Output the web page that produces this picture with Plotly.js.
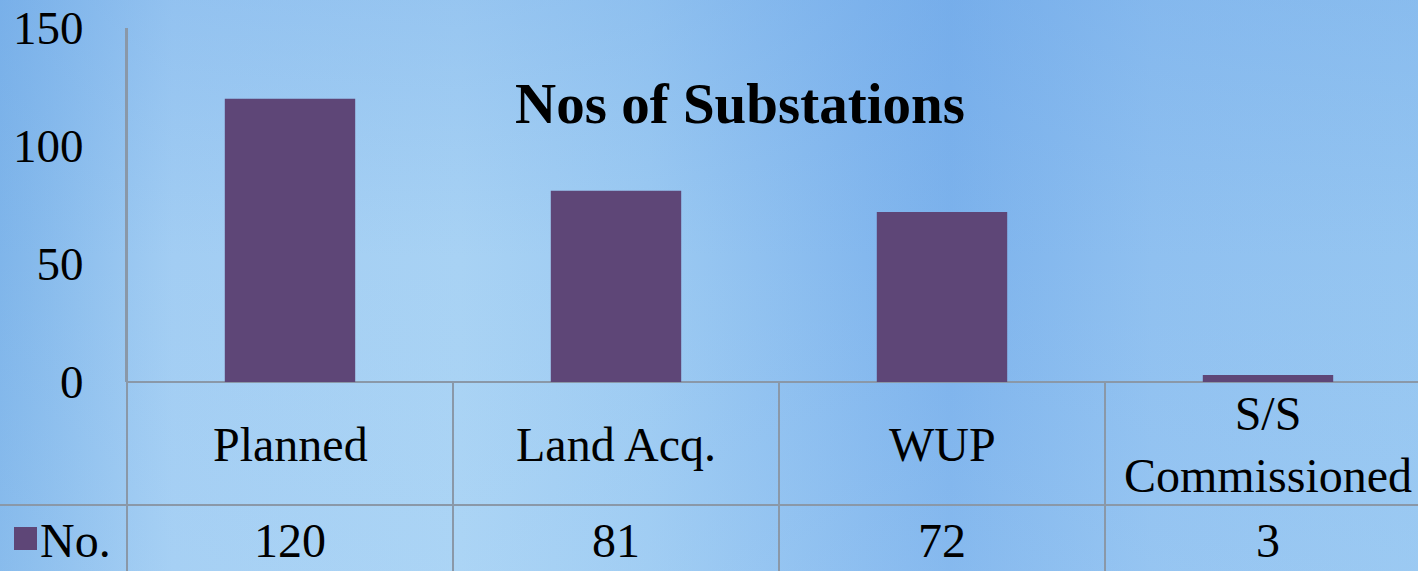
<!DOCTYPE html>
<html>
<head>
<meta charset="utf-8">
<script src="https://cdn.plot.ly/plotly-3.0.1.min.js"></script>
<style>
  html, body { margin: 0; padding: 0; overflow: hidden; }
  #chart {
    width: 1440px; height: 571px;
    background:
      linear-gradient(to bottom, rgba(100,160,230,0.25) 0%, rgba(100,160,230,0) 45%, rgba(190,225,250,0.15) 100%),
      linear-gradient(to right, #7fb5ea 0%, #a2cdf3 12%, #a8d2f4 32%, #9ccaf2 45%, #84b8ee 60%, #7cb2ec 66%, #8fc0f0 80%, #96c6f1 100%);
  }
</style>
</head>
<body>
<div id="chart"></div>
<script>
const categories = ['Planned', 'Land Acq.', 'WUP', 'S/S<br>Commissioned'];
const counts = [120, 81, 72, 3];
const seriesName = 'No.';
const yTicks = [0, 50, 100, 150];

const barColor = '#5e4677';
const lineColor = '#8a98a8';
const font = 'Liberation Serif';

// pixel helpers for the table under the plot
const plotTop = 28, plotBottom = 382, H = 571;
const py = px => (plotBottom - px) / (plotBottom - plotTop);

const data = [{
    type: 'bar',
    x: categories.map((c, i) => i),
    y: counts,
    name: seriesName,
    marker: { color: barColor },
    width: 0.4,
    hoverinfo: 'y'
}];

const shapes = [];
const annotations = [];

// table grid
shapes.push({ type: 'line', xref: 'paper', yref: 'paper', x0: 0, x1: 1, y0: py(505), y1: py(505), line: { color: lineColor, width: 2 } });
shapes.push({ type: 'line', xref: 'paper', yref: 'paper', x0: -127 / 1304, x1: 0, y0: py(505), y1: py(505), line: { color: lineColor, width: 2 } });
shapes.push({ type: 'line', xref: 'paper', yref: 'paper', x0: 0, x1: 0, y0: py(571), y1: 1, line: { color: lineColor, width: 2 } });
[0.5, 1.5, 2.5, 3.5].forEach(x => {
    shapes.push({ type: 'line', xref: 'x', yref: 'paper', x0: x, x1: x, y0: py(571), y1: 0, line: { color: lineColor, width: 2 } });
});

// category labels and values
categories.forEach((c, i) => {
    annotations.push({ x: i, y: py(444), xref: 'x', yref: 'paper', text: c, showarrow: false,
        font: { family: font, size: 48, color: '#000' }, yanchor: 'middle' });
    annotations.push({ x: i, y: py(540), xref: 'x', yref: 'paper', text: String(counts[i]), showarrow: false,
        font: { family: font, size: 48, color: '#000' }, yanchor: 'middle' });
});

// legend key in the table
shapes.push({ type: 'rect', xref: 'paper', yref: 'paper', x0: -113 / 1304, x1: -90 / 1304, y0: py(550), y1: py(527), fillcolor: barColor, line: { width: 0 } });
annotations.push({ x: -89 / 1304, y: py(540), xref: 'paper', yref: 'paper', text: seriesName, showarrow: false,
    xanchor: 'left', yanchor: 'middle', font: { family: font, size: 48, color: '#000' } });

const layout = {
    width: 1440,
    height: H,
    margin: { l: 127, r: 9, t: plotTop, b: H - plotBottom },
    paper_bgcolor: 'rgba(0,0,0,0)',
    plot_bgcolor: 'rgba(0,0,0,0)',
    title: {
        text: '<b>Nos of Substations</b>',
        x: 740 / 1440, xanchor: 'center',
        y: 1 - 103 / H, yanchor: 'middle',
        font: { family: font, size: 57, color: '#000' }
    },
    showlegend: false,
    xaxis: {
        range: [-0.5, 3.5],
        showticklabels: false,
        showgrid: false,
        zeroline: false,
        showline: false,
        fixedrange: true
    },
    yaxis: {
        range: [0, 150],
        tickvals: yTicks,
        showgrid: false,
        zeroline: true,
        zerolinecolor: lineColor,
        zerolinewidth: 2,
        showline: true,
        linecolor: lineColor,
        linewidth: 2,
        ticks: 'outside',
        ticklen: 32,
        tickcolor: 'rgba(0,0,0,0)',
        tickfont: { family: font, size: 47, color: '#000' },
        fixedrange: true
    },
    shapes: shapes,
    annotations: annotations
};

Plotly.newPlot('chart', data, layout, { displayModeBar: false, staticPlot: true });
</script>
</body>
</html>
